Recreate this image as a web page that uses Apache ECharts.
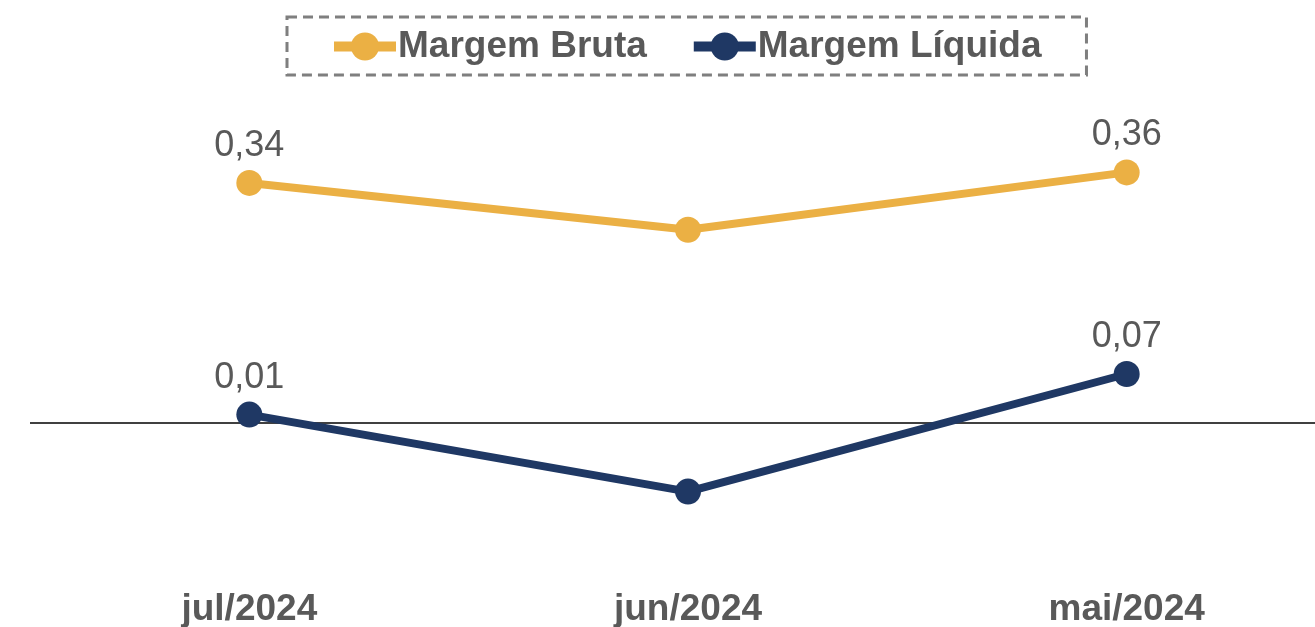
<!DOCTYPE html>
<html>
<head>
<meta charset="utf-8">
<script src="https://cdn.jsdelivr.net/npm/echarts@6/dist/echarts.min.js"></script>
<style>
  html, body { margin: 0; padding: 0; background: #fff; }
  #chart { width: 1315px; height: 627px; }
</style>
</head>
<body>
<div id="chart"></div>
<script>
// dados
const categories = ['jul/2024', 'jun/2024', 'mai/2024']
const margemBruta = [0.343, 0.276, 0.358]
const margemLiquida = [0.012, -0.098, 0.07]

const textColor = '#595959'
const fontFamily = '"Liberation Sans", Arial, sans-serif'

const myChart = echarts.init(document.getElementById('chart'))

// o ponto do meio não tem rótulo no original
const toPoints = (values) =>
  values.map((v, i) => ({ value: v, label: { show: i !== 1 } }))

const fmt = (p) => p.value.toFixed(2).replace('.', ',')

const option = {
  animation: false,
  textStyle: { fontFamily },
  legend: {
    top: 17,
    left: 287,
    padding: [11, 45, 10, 42],
    itemGap: 42,
    itemWidth: 62,
    itemHeight: 35,
    borderColor: '#7f7f7f',
    borderWidth: 3,
    borderType: [10, 6],
    lineStyle: { width: 10 },
    textStyle: {
      color: textColor,
      fontSize: 37,
      fontWeight: 'bold',
      fontFamily,
      padding: [0, 0, 0, -3],
    },
    data: ['Margem Bruta', 'Margem Líquida'],
  },
  grid: {
    left: 30,
    width: 1316,
    top: 73,
    height: 490,
    outerBoundsMode: 'none',
  },
  xAxis: {
    type: 'category',
    data: categories,
    boundaryGap: true,
    axisLine: { show: false },
    axisTick: { show: false },
    splitLine: { show: false },
    axisLabel: {
      color: textColor,
      fontSize: 37,
      fontWeight: 'bold',
      fontFamily,
      margin: 28,
    },
  },
  yAxis: {
    type: 'value',
    min: -0.2,
    max: 0.5,
    show: false,
    splitLine: { show: false },
  },
  series: [
    {
      name: 'Margem Bruta',
      type: 'line',
      data: toPoints(margemBruta),
      color: '#EBB044',
      symbol: 'circle',
      symbolSize: 26,
      lineStyle: { width: 8 },
      label: {
        position: 'top',
        distance: 6,
        color: textColor,
        fontSize: 36,
        fontFamily,
        formatter: fmt,
      },
    },
    {
      name: 'Margem Líquida',
      type: 'line',
      data: toPoints(margemLiquida),
      color: '#1F3864',
      symbol: 'circle',
      symbolSize: 26,
      lineStyle: { width: 8 },
      z: 3,
      label: {
        position: 'top',
        distance: 6,
        color: textColor,
        fontSize: 36,
        fontFamily,
        formatter: fmt,
      },
      markLine: {
        silent: true,
        symbol: 'none',
        label: { show: false },
        lineStyle: { color: '#000', width: 1.5, type: 'solid' },
        data: [{ yAxis: 0 }],
        z: 1,
      },
    },
  ],
}

myChart.setOption(option)
</script>
</body>
</html>
